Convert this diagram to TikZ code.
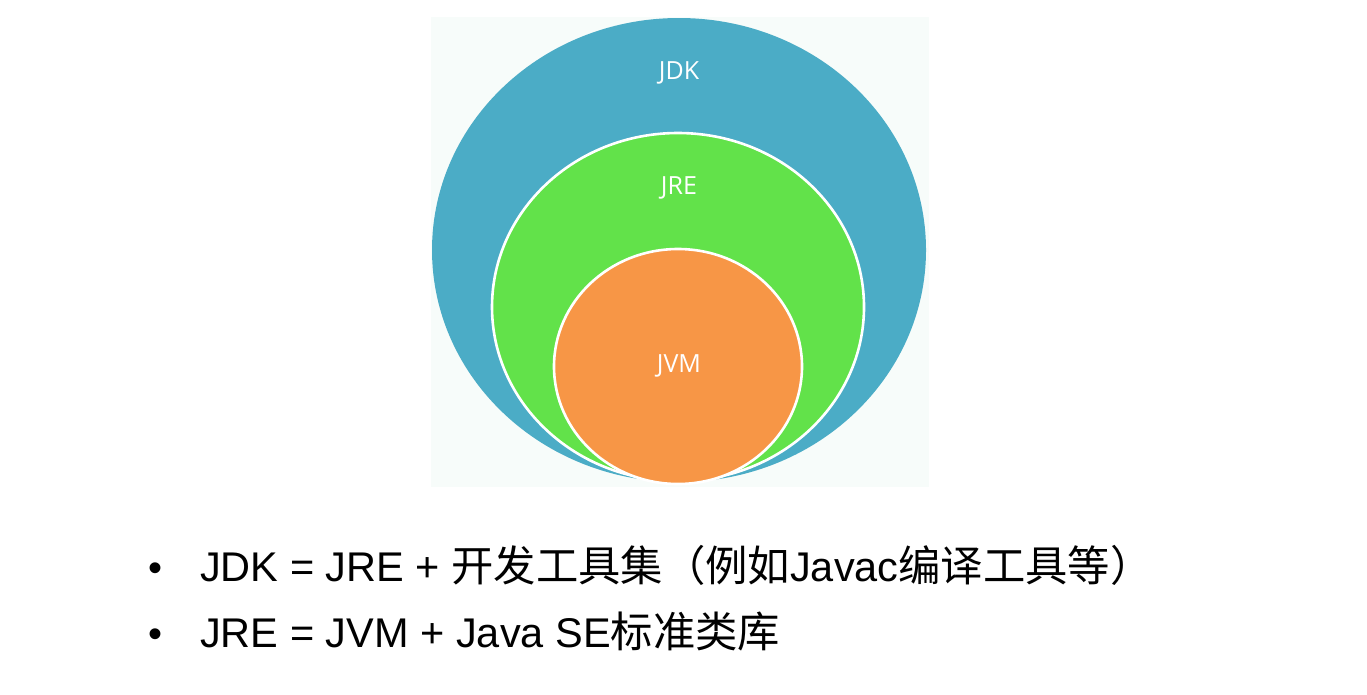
\documentclass[tikz,border=0pt]{standalone}
\usepackage{fontspec}
\setmainfont{Liberation Sans}
\newfontfamily\cjk[Scale=1.02]{Noto Sans CJK SC}
\newfontfamily\lblfont{Open Sans}
\definecolor{jdkblue}{HTML}{4BACC6}
\definecolor{jregreen}{HTML}{62E24A}
\definecolor{jvmorange}{HTML}{F79646}
\definecolor{bgpale}{HTML}{F7FCFA}
\tikzset{
  ring/.style={draw=white, line width=2.6pt},
  lbl/.style={text=white, font=\lblfont\fontsize{25}{30}\selectfont, inner sep=0pt},
  bullettext/.style={anchor=base west, inner sep=0pt, font=\fontsize{41.5}{48}\selectfont},
  bulletdot/.style={anchor=base, inner sep=0pt, font=\fontsize{40}{48}\selectfont}
}
\begin{document}
\begin{tikzpicture}[x=1pt,y=-1pt]
\useasboundingbox (0,0) rectangle (1367,694);
\fill[white] (0,0) rectangle (1367,694);
\fill[bgpale] (431,17) rectangle (929,487);
\fill[jdkblue] (679,250) ellipse [x radius=247, y radius=232];
\filldraw[jregreen, ring] (678,307) ellipse [x radius=186, y radius=174];
\filldraw[jvmorange, ring] (678,366.5) ellipse [x radius=124, y radius=117.5];
\node[lbl] (jdk) at (679,73) {JDK};
\node[lbl] (jre) at (679,188) {JRE};
\node[lbl] (jvm) at (679,366) {JVM};
\node[bulletdot] (b1) at (156,581) {•};
\node[bullettext] (t1) at (200,581) {JDK = JRE + {\cjk 开发工具集（例如}Javac{\cjk 编译工具等）}};
\node[bulletdot] (b2) at (156,647) {•};
\node[bullettext] (t2) at (200,647) {JRE = JVM + Java SE{\cjk 标准类库}};
\end{tikzpicture}
\end{document}
